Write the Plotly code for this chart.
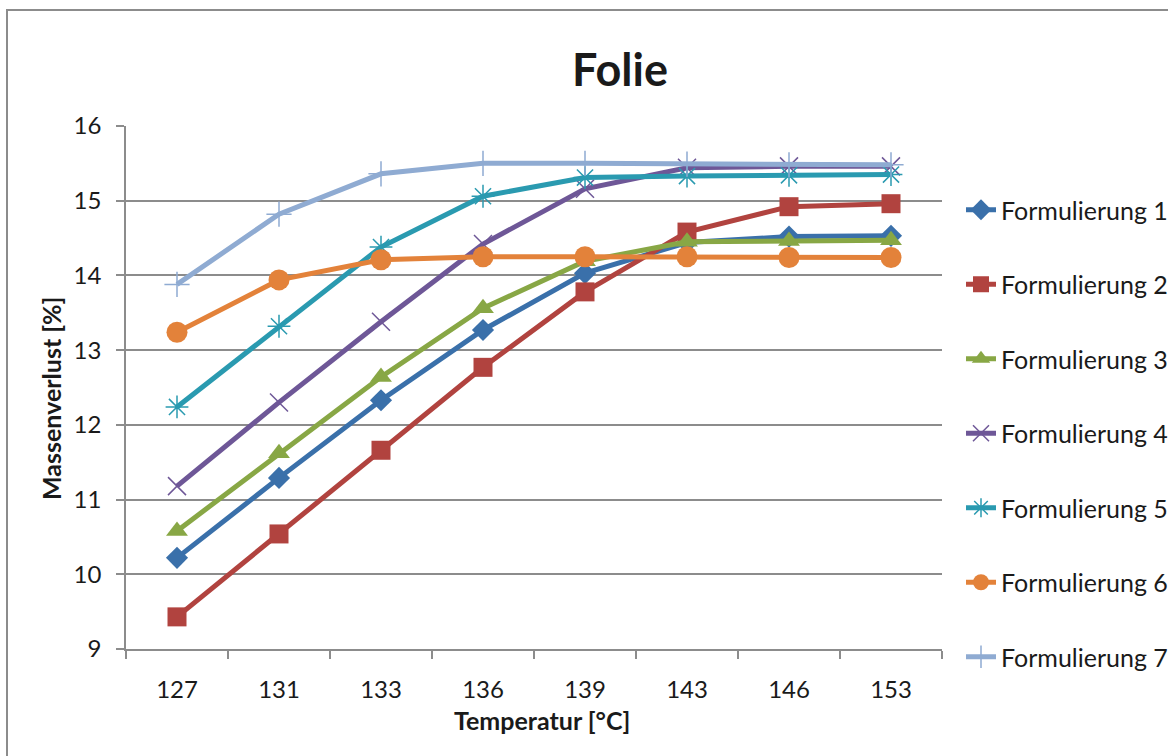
import plotly.graph_objects as go

categories = ["127", "131", "133", "136", "139", "143", "146", "153"]
f1 = [10.22, 11.29, 12.33, 13.27, 14.03, 14.44, 14.52, 14.53]
f2 = [9.43, 10.54, 11.66, 12.77, 13.78, 14.58, 14.92, 14.96]
f3 = [10.58, 11.62, 12.64, 13.56, 14.19, 14.45, 14.46, 14.47]
f4 = [11.18, 12.30, 13.38, 14.42, 15.16, 15.44, 15.46, 15.46]
f5 = [12.24, 13.32, 14.38, 15.06, 15.31, 15.33, 15.34, 15.35]
f6 = [13.24, 13.94, 14.21, 14.25, 14.25, 14.25, 14.24, 14.24]
f7 = [13.88, 14.82, 15.36, 15.50, 15.50, 15.49, 15.48, 15.48]
names = ["Formulierung 1", "Formulierung 2", "Formulierung 3", "Formulierung 4",
         "Formulierung 5", "Formulierung 6", "Formulierung 7"]
series = [f1, f2, f3, f4, f5, f6, f7]

colors = ["#3A70AA", "#B1433F", "#88A745", "#6E5797", "#2A9AB0", "#E3823A", "#8FABD2"]
symbols = ["diamond", "square", "triangle-up", "x-thin-open", "asterisk-open", "circle", "cross-thin-open"]
sizes = [17, 19, 19, 18, 19, 21, 18]

FONT = "Lato"
GRID = "#8C8C8C"
TXT = "#1a1a1a"

# plot area in pixels
L, R, T, B = 126, 942, 126, 649
PW, PH = R - L, B - T

fig = go.Figure()
for i, (nm, ys) in enumerate(zip(names, series)):
    thin = symbols[i].endswith("-open")
    fig.add_trace(go.Scatter(
        x=categories, y=ys, name=nm, mode="lines+markers",
        legendgroup=nm,
        line=dict(color=colors[i], width=5),
        marker=dict(symbol=symbols[i], size=sizes[i], color=colors[i],
                    line=dict(color=colors[i], width=1.5 if thin else 0)),
    ))

fig.update_layout(
    width=1168, height=756,
    margin=dict(l=L, r=1168 - R, t=T, b=756 - B, autoexpand=False),
    paper_bgcolor="white", plot_bgcolor="white",
    font=dict(family=FONT, size=24, color=TXT),
    title=dict(text="<b>Folie</b>", font=dict(family=FONT, size=45, color=TXT),
               x=620 / 1168, xanchor="center",
               y=1 - 70 / 756, yanchor="middle"),
    showlegend=True,
    legend=dict(x=1 + 19 / PW, xanchor="left", y=1 - 61 / PH, yanchor="top",
                font=dict(family=FONT, size=25, color=TXT),
                tracegroupgap=39, bgcolor="rgba(0,0,0,0)", itemwidth=30),
    xaxis=dict(type="category", range=[-0.5, 7.5], tickson="boundaries",
               ticks="outside", ticklen=8, tickcolor=GRID, tickwidth=1.5,
               showline=True, linecolor=GRID, linewidth=1.5, showgrid=False,
               ticklabelstandoff=18,
               tickfont=dict(family=FONT, size=24, color=TXT)),
    yaxis=dict(range=[9, 16], dtick=1, tick0=9, ticks="outside", ticklen=8,
               tickcolor=GRID, tickwidth=1.5, showline=True, linecolor=GRID, linewidth=1.5,
               showgrid=True, gridcolor=GRID, gridwidth=1.5, zeroline=False,
               ticklabelstandoff=10,
               tickfont=dict(family=FONT, size=24, color=TXT)),
    annotations=[
        dict(text="<b>Temperatur [°C]</b>", xref="paper", yref="paper",
             x=(542 - L) / PW, y=-(720 - B) / PH, xanchor="center", yanchor="middle",
             showarrow=False, font=dict(family=FONT, size=25, color=TXT)),
        dict(text="<b>Massenverlust [%]</b>", xref="paper", yref="paper",
             x=(51 - L) / PW, y=1 - (399 - T) / PH, xanchor="center", yanchor="middle",
             textangle=-90, showarrow=False, font=dict(family=FONT, size=25, color=TXT)),
    ],
)

# chart-area border
fig.add_shape(type="rect", xref="paper", yref="paper",
              x0=(7 - L) / PW, x1=1.6, y0=-0.5, y1=1 + (T - 10) / PH,
              line=dict(color="#8C8C8C", width=2), fillcolor="rgba(0,0,0,0)", layer="below")

fig.write_html("out.html")
